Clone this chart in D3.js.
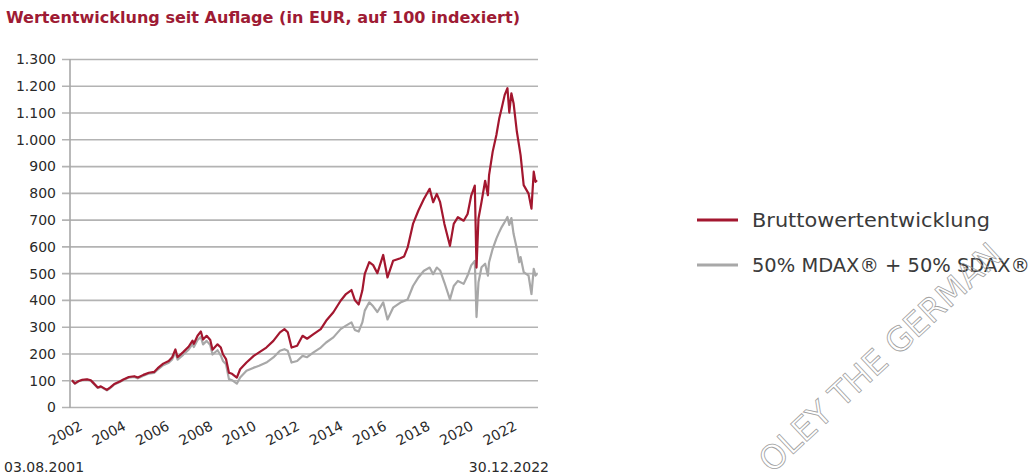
<!DOCTYPE html>
<html>
<head>
<meta charset="utf-8">
<script src="https://cdn.jsdelivr.net/npm/d3@7"></script>
<style>
  body { margin: 0; background: #fff; }
  svg { display: block; font-family: "DejaVu Sans", sans-serif; }
</style>
</head>
<body>
<svg width="1035" height="475"></svg>
<script>
var dates = ["2001-08-03","2001-09-21","2001-11-15","2002-01-15","2002-04-15","2002-06-15","2002-07-20","2002-10-10","2002-12-01","2003-03-12",
  "2003-05-15","2003-07-15","2003-10-15","2003-12-15","2004-03-15","2004-06-15","2004-08-15","2004-11-15","2005-02-15","2005-05-15",
  "2005-07-15","2005-10-15","2006-01-15","2006-03-15","2006-05-08","2006-06-13","2006-09-15","2006-12-15","2007-02-20","2007-03-14",
  "2007-05-15","2007-07-10","2007-08-16","2007-10-15","2007-12-15","2008-01-22","2008-04-15","2008-06-10","2008-07-15","2008-09-05",
  "2008-10-24","2008-12-15","2009-03-06","2009-04-30","2009-08-15","2009-12-15","2010-03-15","2010-07-15","2010-11-10","2011-03-01",
  "2011-05-15","2011-07-10","2011-09-12","2011-12-15","2012-03-15","2012-05-30","2012-09-15","2013-01-15","2013-04-15","2013-08-15",
  "2013-12-15","2014-03-15","2014-06-15","2014-08-10","2014-10-15","2014-12-15","2015-01-25","2015-04-10","2015-06-15","2015-08-25",
  "2015-12-01","2016-02-11","2016-05-15","2016-09-15","2016-11-15","2017-01-15","2017-04-15","2017-07-15","2017-10-15","2018-01-20",
  "2018-03-20","2018-05-20","2018-07-15","2018-09-25","2018-12-27","2019-03-01","2019-05-10","2019-08-15","2019-10-20","2019-12-20",
  "2020-02-18","2020-03-18","2020-04-20","2020-06-10","2020-08-10","2020-09-25","2020-10-15","2020-12-15","2021-02-15","2021-04-05",
  "2021-05-15","2021-07-05","2021-08-20","2021-09-20","2021-10-25","2021-12-01","2022-01-25","2022-03-07","2022-03-29","2022-05-20",
  "2022-08-10","2022-09-28","2022-11-05","2022-12-05","2022-12-30"]

var fund = [100,88,96,101,103,100,92,73,77,64,
  74,86,95,103,112,115,110,120,128,131,
  145,162,172,186,215,186,205,225,248,236,
  266,282,252,266,250,214,234,222,197,179,
  128,124,110,141,166,191,204,222,247,279,
  291,279,222,229,266,255,272,291,322,354,
  397,422,437,400,383,435,497,541,530,500,
  568,484,546,556,562,596,684,734,777,815,
  765,796,765,684,602,684,709,696,721,790,
  827,521,704,766,845,791,866,954,1016,1079,
  1116,1166,1191,1100,1172,1135,1029,972,941,829,
  797,741,879,841,847]

var bench = [100,87,95,100,102,98,90,71,75,62,
  72,84,93,101,110,112,107,117,125,127,
  140,156,165,178,205,177,195,214,236,224,
  250,262,234,247,231,196,212,192,172,160,
  104,100,87,110,135,147,154,166,185,210,
  216,210,166,172,191,186,204,222,241,260,
  291,304,316,288,282,316,360,391,376,355,
  391,327,371,390,396,402,452,484,509,521,
  496,521,510,465,402,452,471,460,491,529,
  546,336,466,522,535,491,541,591,629,654,
  672,691,710,680,706,647,591,541,560,504,
  491,422,516,491,497]

var yTicks = [0,100,200,300,400,500,600,700,800,900,1000,1100,1200,1300]
var xTickYears = [2002,2004,2006,2008,2010,2012,2014,2016,2018,2020,2022]
var seriesNames = ["Bruttowertentwicklung", "50% MDAX\u00AE + 50% SDAX\u00AE"]
var title = "Wertentwicklung seit Auflage (in EUR, auf 100 indexiert)"
var startLabel = "03.08.2001"
var endLabel = "30.12.2022"

var red = "#a3172f"
var grey = "#a8a8a8"

function main() {
  var svg = d3.select("svg")
  var parse = d3.timeParse("%Y-%m-%d")
  var parsed = dates.map(parse)

  var x = d3.scaleTime()
    .domain([parsed[0], parsed[parsed.length - 1]])
    .range([72, 537])
  var y = d3.scaleLinear().domain([0, 1300]).range([407, 59])

  // title
  svg.append("text")
    .attr("x", 6).attr("y", 23)
    .attr("fill", "#9e1b34")
    .attr("font-size", 16).attr("font-weight", "bold")
    .attr("font-family", "'DejaVu Sans Condensed', 'DejaVu Sans', sans-serif")
    .attr("textLength", 514).attr("lengthAdjust", "spacingAndGlyphs")
    .text(title)

  // gridlines + y labels
  var yAxis = d3.axisLeft(y).tickValues(yTicks)
    .tickSize(-476)
    .tickFormat(d => d3.format(",")(d).replace(",", "."))
  var gy = svg.append("g").attr("transform", "translate(62,0)")
    .call(yAxis)
  gy.select(".domain").remove()
  gy.selectAll(".tick line").attr("stroke", "#b3b3b3").attr("stroke-width", 1.6)
  gy.selectAll(".tick text")
    .attr("x", -6).attr("dy", "0.35em")
    .attr("font-size", 14).attr("fill", "#2a2a2a")
    .attr("font-family", "'DejaVu Sans', sans-serif")

  // vertical axis line
  svg.append("line")
    .attr("x1", 70).attr("x2", 70)
    .attr("y1", y(1300)).attr("y2", y(0) + 1)
    .attr("stroke", "#a8a8a8").attr("stroke-width", 1.6)

  // x labels
  var xAxis = d3.axisBottom(x)
    .tickValues(xTickYears.map(v => new Date(v, 0, 1)))
    .tickSize(0)
    .tickFormat(d3.timeFormat("%Y"))
  var gx = svg.append("g").attr("transform", "translate(0,407)").call(xAxis)
  gx.select(".domain").remove()
  gx.selectAll(".tick text")
    .attr("text-anchor", "end")
    .attr("font-size", 14).attr("fill", "#2a2a2a")
    .attr("font-family", "'DejaVu Sans', sans-serif")
    .attr("y", 0).attr("dy", 0)
    .attr("transform", "translate(2,22) rotate(-28)")

  // lines
  var line = d3.line()
    .x((d, i) => x(parsed[i]))
    .y(d => y(d))

  svg.append("path").datum(bench)
    .attr("d", line).attr("fill", "none")
    .attr("stroke", grey).attr("stroke-width", 2.2)
    .attr("stroke-linejoin", "round")
  svg.append("path").datum(fund)
    .attr("d", line).attr("fill", "none")
    .attr("stroke", red).attr("stroke-width", 2.2)
    .attr("stroke-linejoin", "round")

  // start / end dates
  svg.append("text").attr("x", 4).attr("y", 472)
    .attr("font-size", 14).attr("fill", "#2a2a2a")
    .text(startLabel)
  svg.append("text").attr("x", 549).attr("y", 472)
    .attr("text-anchor", "end")
    .attr("font-size", 14).attr("fill", "#2a2a2a")
    .text(endLabel)

  // legend
  var legend = svg.append("g").attr("transform", "translate(697,220)")
  var colors = [red, grey]
  var widths = [238, 278]
  seriesNames.forEach(function(name, i) {
    var row = legend.append("g").attr("transform", "translate(0," + (i * 45) + ")")
    row.append("line")
      .attr("x1", 0).attr("x2", 41)
      .attr("stroke", colors[i]).attr("stroke-width", 3)
    row.append("text")
      .attr("x", 55).attr("y", 7)
      .attr("font-size", 19).attr("fill", "#3a3a3a")
      .attr("font-family", "'DejaVu Sans', sans-serif")
      .attr("textLength", widths[i]).attr("lengthAdjust", "spacingAndGlyphs")
      .text(name)
  })

  // watermark
  svg.append("text")
    .attr("transform", "translate(772,474) rotate(-43)")
    .attr("font-size", 33)
    .attr("fill", "none").attr("stroke", "#a0a0a0").attr("stroke-width", 0.8)
    .attr("font-family", "'DejaVu Sans', sans-serif")
    .text("OLEY THE GERMAN")
}

window.onload = function() {
  main()
}
</script>
</body>
</html>
